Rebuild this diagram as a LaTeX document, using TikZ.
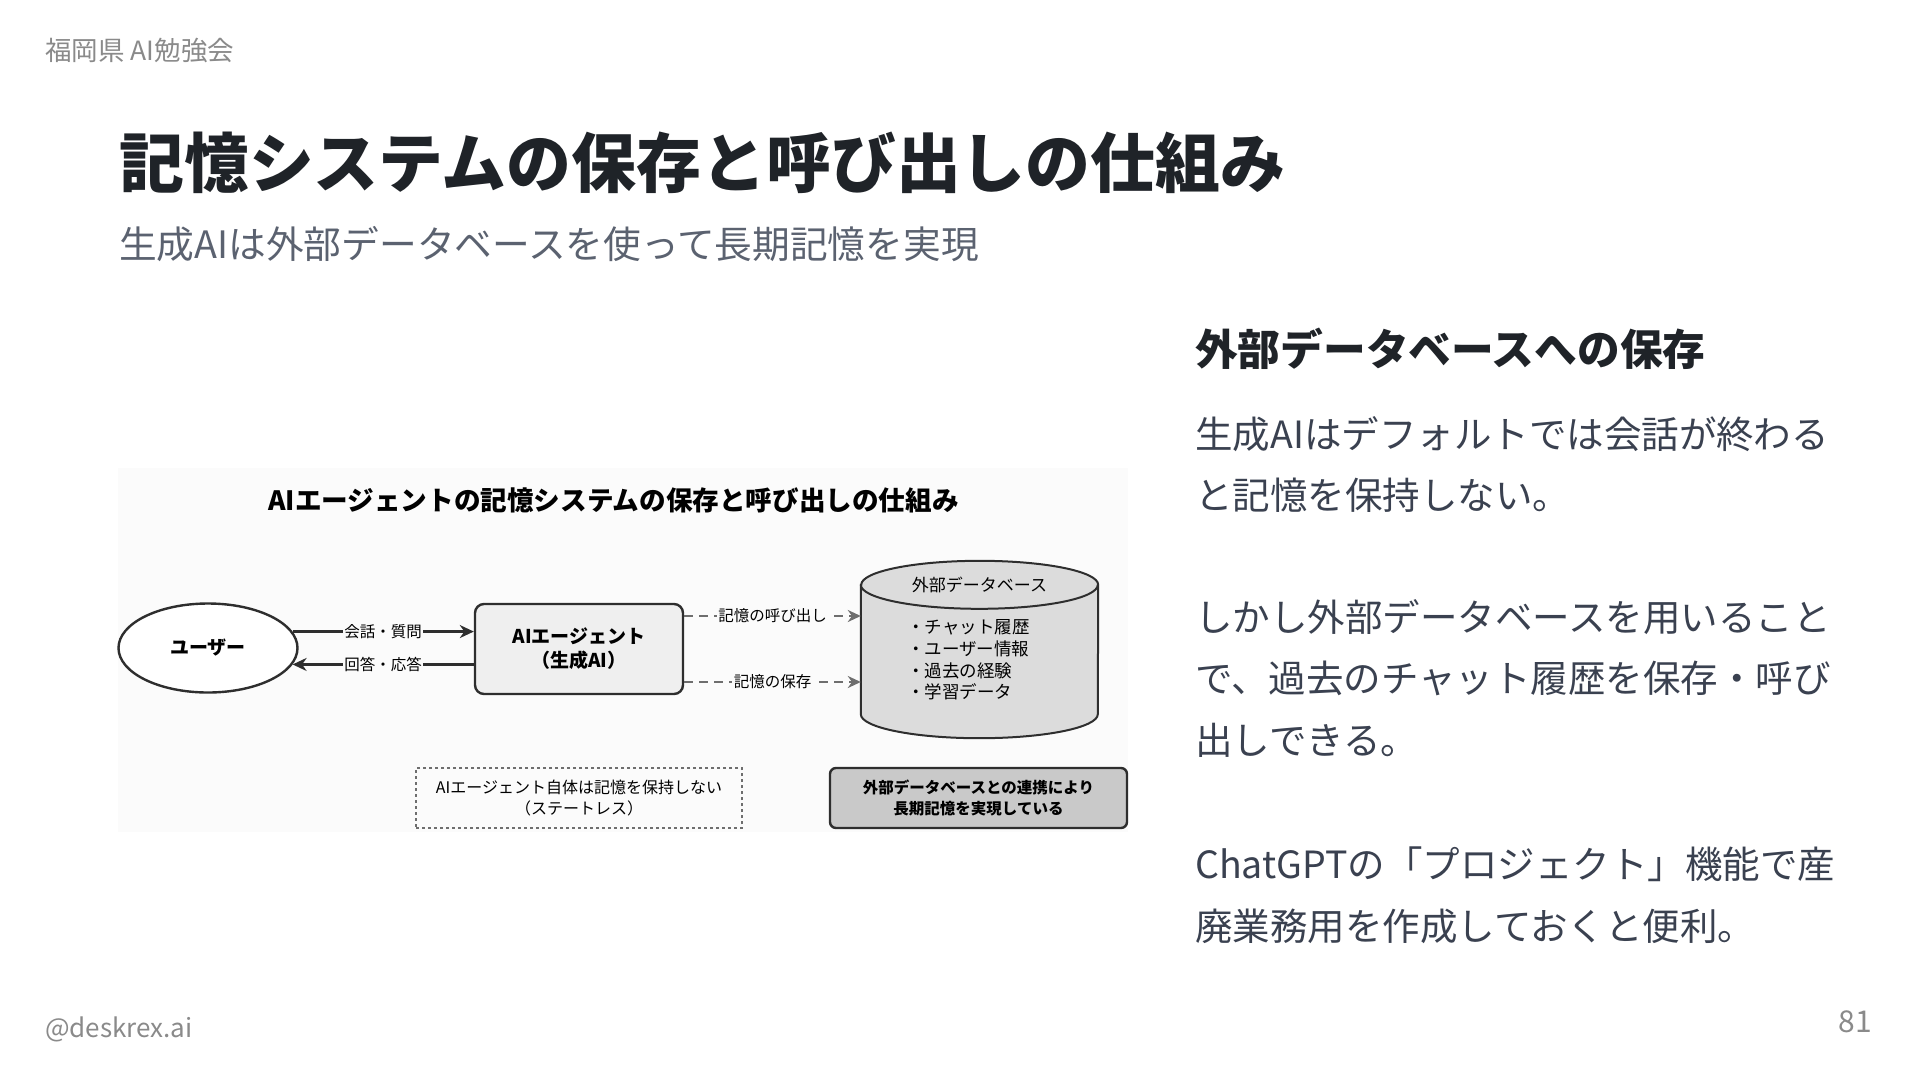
\documentclass[tikz,border=0pt]{standalone}
\usepackage{fontspec}
\setmainfont{Noto Sans CJK JP}
\usetikzlibrary{arrows.meta,positioning,shapes.geometric}
\definecolor{headgray}{HTML}{8A8A8A}
\definecolor{titleink}{HTML}{1F2328}
\definecolor{subgray}{HTML}{5B6270}
\definecolor{bodyink}{HTML}{3A4150}
\definecolor{diagbg}{HTML}{FBFBFB}
\definecolor{diagline}{HTML}{2E2E2E}
\definecolor{dashgray}{HTML}{6E6E6E}
\definecolor{agentfill}{HTML}{EFEFEF}
\definecolor{dbfill}{HTML}{DCDCDC}
\definecolor{notefill}{HTML}{C9C9C9}

\begin{document}
\begin{tikzpicture}[x=1pt,y=-1pt,>=Stealth,
  txt/.style={inner sep=0,anchor=west},
  box/.style={draw=diagline,line width=2.4pt,align=center,font=\fontsize{19}{24}\selectfont\bfseries},
  flowlabel/.style={fill=diagbg,inner sep=1.5pt,font=\fontsize{15.5}{18}\selectfont},
  solidarrow/.style={draw=diagline,line width=2.6pt,-{Stealth[length=14pt,width=13pt]}},
  dasharrow/.style={draw=dashgray,line width=2.4pt,dash pattern=on 9pt off 6pt,-{Stealth[length=13pt,width=12pt]}}]
  \useasboundingbox[fill=white] (0,0) rectangle (1920,1080);

  \node[txt,text=headgray,font=\fontsize{26.5}{30}\selectfont] (org) at (45,51) {福岡県 AI勉強会};
  \node[txt,text=titleink,font=\fontsize{64.9}{72}\selectfont\bfseries] (title) at (119,163) {記憶システムの保存と呼び出しの仕組み};
  \node[txt,text=subgray,font=\fontsize{37.7}{44}\selectfont] (subtitle) at (119,244) {生成AIは外部データベースを使って長期記憶を実現};

  \node[txt,text=titleink,font=\fontsize{42.7}{50}\selectfont\bfseries] (sidehead) at (1195,349) {外部データベースへの保存};
  \node[txt,anchor=north west,align=left,text=bodyink,font=\fontsize{37.5}{61.5}\selectfont] (para1) at (1195,416) {生成AIはデフォルトでは会話が終わる\\と記憶を保持しない。};
  \node[txt,anchor=north west,align=left,text=bodyink,font=\fontsize{37.5}{61.5}\selectfont] (para2) at (1195,599) {しかし外部データベースを用いること\\で、過去のチャット履歴を保存・呼び\\出しできる。};
  \node[txt,anchor=north west,align=left,text=bodyink,font=\fontsize{37.5}{61.5}\selectfont] (para3) at (1195,847) {ChatGPTの「プロジェクト」機能で産\\廃業務用を作成しておくと便利。};

  \fill[diagbg] (118,468) rectangle (1128,832);
  \node[font=\fontsize{26.6}{30}\selectfont\bfseries] (diagtitle) at (613.5,500) {AIエージェントの記憶システムの保存と呼び出しの仕組み};

  \node[box,ellipse,fill=white,minimum width=179,minimum height=89] (user) at (208,648) {ユーザー};
  \node[box,rounded corners=9,fill=agentfill,minimum width=208,minimum height=90] (agent) at (579,649) {AIエージェント\\（生成AI）};
  \node[minimum width=237,minimum height=177] (db) at (979.5,649.5) {};
  \path[draw=diagline,line width=2pt,fill=dbfill] ([yshift=-24]db.north west) -- ([yshift=24]db.south west)
    arc[start angle=180,end angle=0,x radius=118.5,y radius=24] -- ([yshift=-24]db.north east)
    arc[start angle=0,end angle=-180,x radius=118.5,y radius=24] -- cycle;
  \draw[diagline,line width=2pt] ([yshift=-24]db.north west) arc[start angle=180,end angle=0,x radius=118.5,y radius=24];
  \node[font=\fontsize{17}{20}\selectfont] (dbtitle) at (979.5,585) {外部データベース};
  \node[txt,align=left,font=\fontsize{17.5}{21.7}\selectfont] (dbitems) at (907,660) {・チャット履歴\\・ユーザー情報\\・過去の経験\\・学習データ};

  \draw[solidarrow] (user.11) -- (user.11 -| agent.west) node[midway,flowlabel] {会話・質問};
  \draw[solidarrow] (user.-11 -| agent.west) -- (user.-11) node[midway,flowlabel] {回答・応答};
  \coordinate (recallstart) at ([yshift=33]agent.east);
  \coordinate (storestart) at ([yshift=-33]agent.east);
  \draw[dasharrow] (recallstart) -- (recallstart -| db.west) node[midway,flowlabel] {記憶の呼び出し};
  \draw[dasharrow] (storestart) -- (storestart -| db.west) node[midway,flowlabel] {記憶の保存};

  \node[draw=dashgray,dashed,line width=1.2pt,minimum width=326,minimum height=60,align=center,font=\fontsize{16}{21}\selectfont] (stateless) at (579,798) {AIエージェント自体は記憶を保持しない\\（ステートレス）};
  \node[draw=diagline,line width=2.4pt,rounded corners=6,fill=notefill,minimum width=297,minimum height=60,align=center,font=\fontsize{15.5}{21}\selectfont\bfseries] (longterm) at (978.5,798) {外部データベースとの連携により\\長期記憶を実現している};

  \node[txt,text=headgray,font=\fontsize{26}{30}\selectfont] (handle) at (45,1029) {@deskrex.ai};
  \node[txt,anchor=east,text=headgray,font=\fontsize{30}{34}\selectfont] (pageno) at (1872,1022) {81};
\end{tikzpicture}
\end{document}
